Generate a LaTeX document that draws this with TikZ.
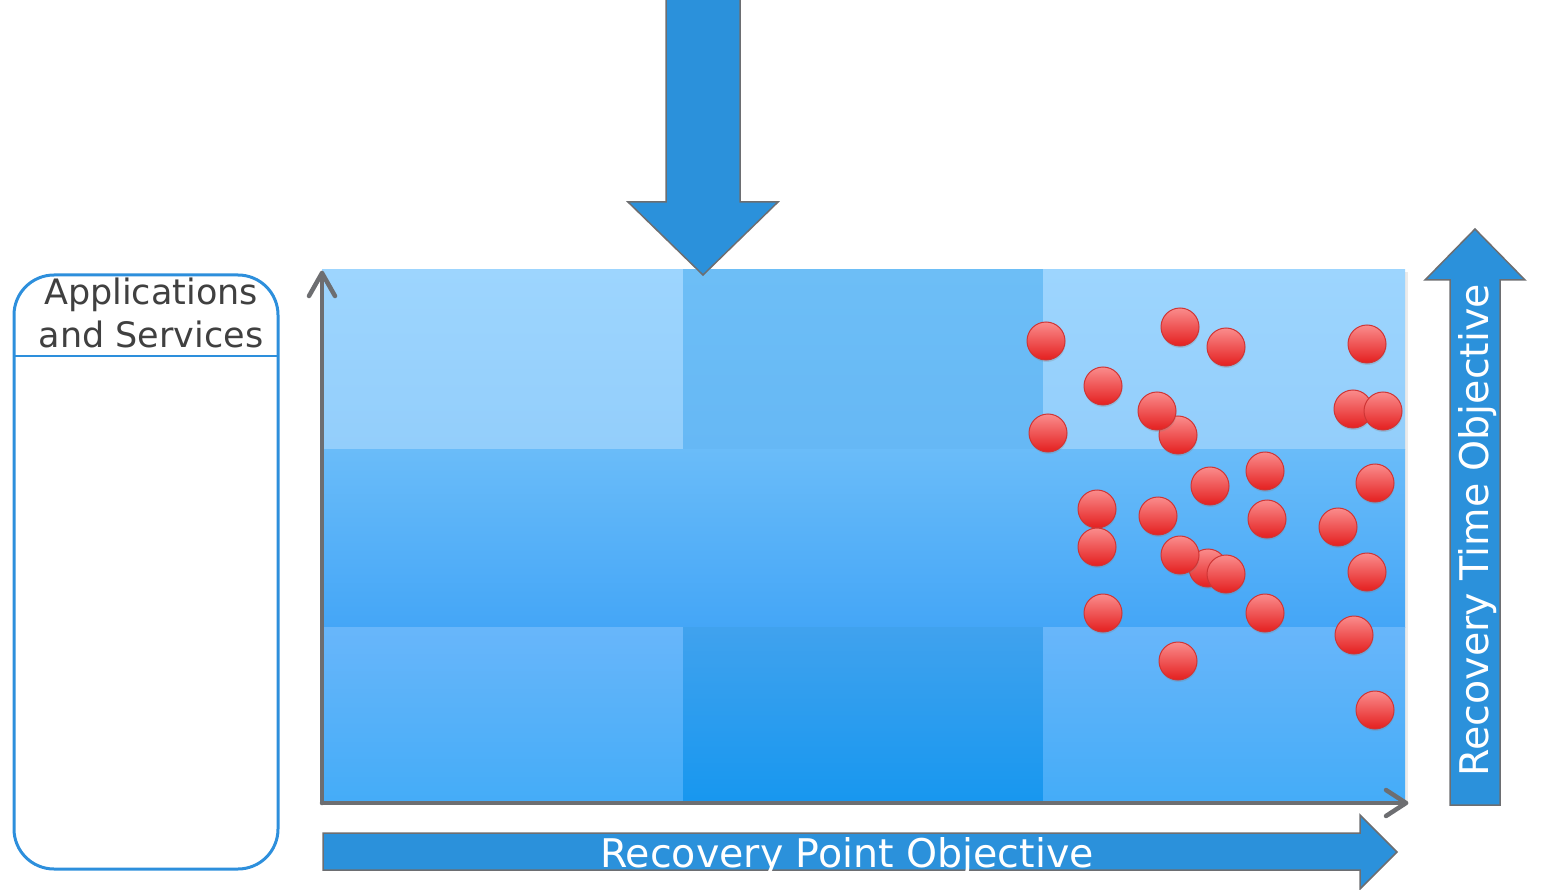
\documentclass[tikz,border=0pt]{standalone}
\usepackage{fontspec}
\setmainfont{DejaVu Sans}
\usetikzlibrary{shadows}
\definecolor{arrowblue}{HTML}{2B91DB}
\definecolor{edgegray}{HTML}{6D6E71}
\definecolor{boxblue}{HTML}{2D8FDC}
\definecolor{txtgray}{HTML}{404040}
\definecolor{ballTop}{HTML}{FA8C8C}
\definecolor{ballBot}{HTML}{E41F1F}
\definecolor{ballEdge}{HTML}{CF3535}
\definecolor{tlT}{HTML}{9DD5FE}\definecolor{tlB}{HTML}{93CEFB}
\definecolor{tmT}{HTML}{6DBEF6}\definecolor{tmB}{HTML}{66B8F5}
\definecolor{mrT}{HTML}{6ABCF9}\definecolor{mrB}{HTML}{44A6F7}
\definecolor{blT}{HTML}{68B6FA}\definecolor{blB}{HTML}{44ACF8}
\definecolor{bmT}{HTML}{40A2EE}\definecolor{bmB}{HTML}{1797EF}
\tikzset{
  bigarrow/.style={fill=arrowblue, draw=edgegray, line width=1.5pt, line join=miter},
  axis/.style={draw=edgegray, line width=4.5pt, line cap=round, line join=round},
  ball/.style={circle, minimum size=38pt, inner sep=0pt, top color=ballTop, bottom color=ballBot,
    draw=ballEdge, line width=1pt, drop shadow={shadow xshift=0.5pt, shadow yshift=-2pt, opacity=0.25}},
  whitelabel/.style={text=white, font=\fontsize{39.5}{45}\selectfont, inner sep=0pt, anchor=base},
  boxlabel/.style={text=txtgray, font=\fontsize{35}{40}\selectfont, inner sep=0pt, anchor=base}
}
\begin{document}
\begin{tikzpicture}[x=1pt,y=-1pt]
\useasboundingbox (0,0) rectangle (1555,890);
% grid
\coordinate (g0) at (322,270);
\shade[top color=tlT, bottom color=tlB] (322,270) rectangle (683,449);
\shade[top color=tmT, bottom color=tmB] (683,270) rectangle (1043,449);
\shade[top color=tlT, bottom color=tlB] (1043,270) rectangle (1405,449);
\shade[top color=mrT, bottom color=mrB] (322,449) rectangle (1405,627);
\shade[top color=blT, bottom color=blB] (322,627) rectangle (683,803);
\shade[top color=bmT, bottom color=bmB] (683,627) rectangle (1043,803);
\shade[top color=blT, bottom color=blB] (1043,627) rectangle (1405,803);
\fill[black, opacity=0.08] (1405,272) rectangle (1408,803);
% axes
\coordinate (origin) at (322,803);
\coordinate (ytip) at (322,273);
\coordinate (xtip) at (1406,803);
\draw[axis] (origin) -- (ytip);
\draw[axis] (309,296) -- (ytip) -- (335,296);
\draw[axis] (origin) -- (xtip);
\draw[axis] (1386,790) -- (xtip) -- (1386,816);
% top arrow
\draw[bigarrow] (666,-2) -- (740,-2) -- (740,202) -- (778,202) -- (703,275) -- (628,202) -- (666,202) -- cycle;
% right arrow (RTO)
\draw[bigarrow] (1450,805) -- (1450,280) -- (1425,280) -- (1475,229) -- (1525,280) -- (1500,280) -- (1500,805) -- cycle;
\node[whitelabel, rotate=90] (rto) at (1488,530) {Recovery Time Objective};
% bottom arrow (RPO)
\draw[bigarrow] (323,833) -- (1360,833) -- (1360,815) -- (1397,852) -- (1360,889) -- (1360,870) -- (323,870) -- cycle;
\node[whitelabel] (rpo) at (847,867) {Recovery Point Objective};
% applications box
\draw[boxblue, line width=3pt, rounded corners=40pt] (14,275) rectangle (278,869);
\draw[boxblue, line width=1.5pt] (15,356) -- (277,356);
\node[boxlabel] (apps1) at (151,305) {Applications};
\node[boxlabel] (apps2) at (151,348) {and Services};
% balls
\node[ball] (b1) at (1046,341) {};
\node[ball] (b2) at (1180,327) {};
\node[ball] (b3) at (1226,347) {};
\node[ball] (b4) at (1367,344) {};
\node[ball] (b5) at (1103,386) {};
\node[ball] (b6) at (1178,435) {};
\node[ball] (b7) at (1157,411) {};
\node[ball] (b8) at (1048,433) {};
\node[ball] (b9) at (1353,409) {};
\node[ball] (b10) at (1383,411) {};
\node[ball] (b11) at (1265,471) {};
\node[ball] (b12) at (1375,483) {};
\node[ball] (b13) at (1210,486) {};
\node[ball] (b14) at (1097,509) {};
\node[ball] (b15) at (1158,516) {};
\node[ball] (b16) at (1267,519) {};
\node[ball] (b17) at (1338,527) {};
\node[ball] (b18) at (1097,547) {};
\node[ball] (b19) at (1208,568) {};
\node[ball] (b20) at (1180,555) {};
\node[ball] (b21) at (1226,574) {};
\node[ball] (b22) at (1367,572) {};
\node[ball] (b23) at (1103,613) {};
\node[ball] (b24) at (1265,613) {};
\node[ball] (b25) at (1354,635) {};
\node[ball] (b26) at (1178,661) {};
\node[ball] (b27) at (1375,710) {};
\end{tikzpicture}
\end{document}
